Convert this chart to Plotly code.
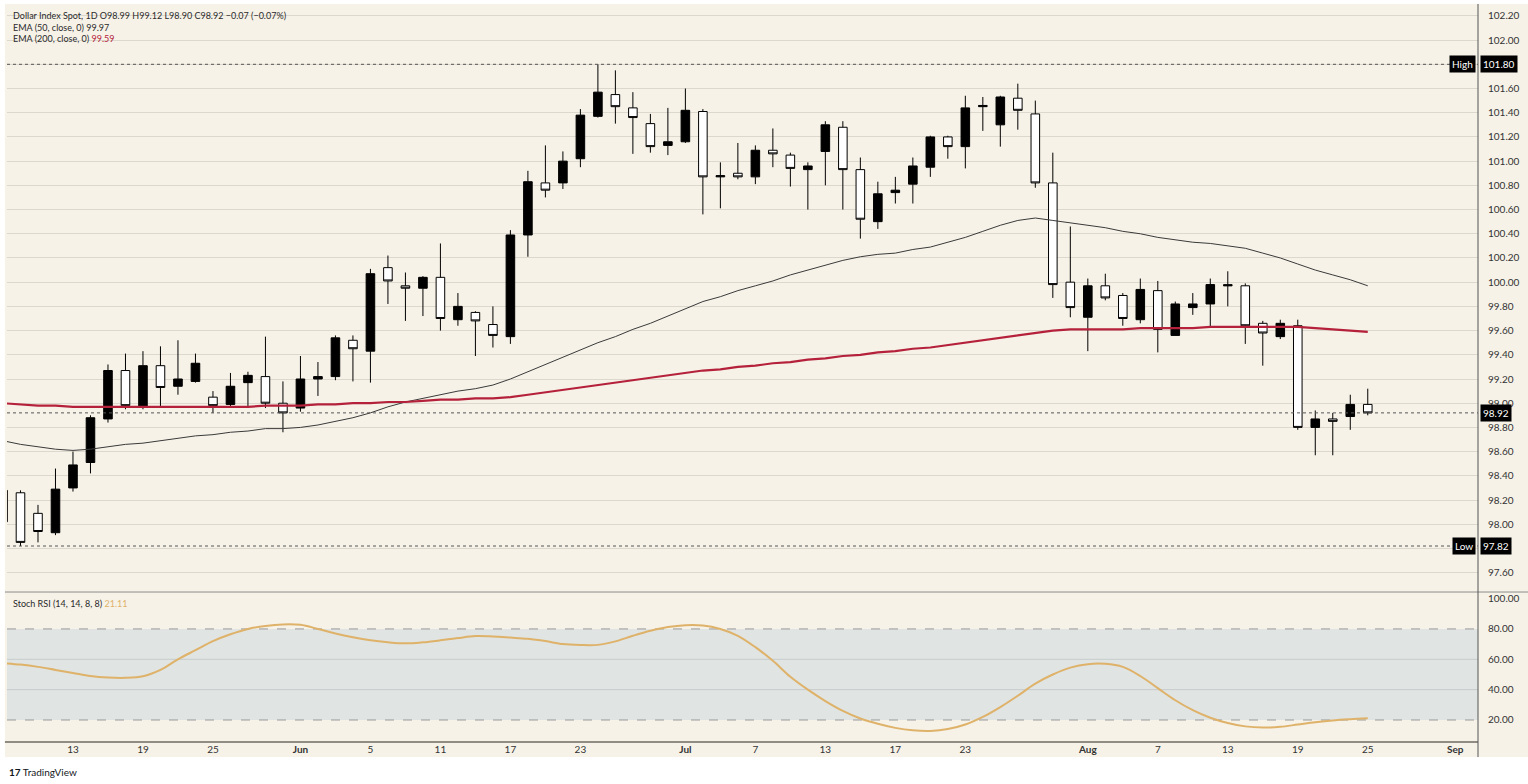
import plotly.graph_objects as go

# ── data (Dollar Index Spot, daily) ──────────────────────────────────────────
dates = [
    "2026-05-07", "2026-05-08",
    "2026-05-11", "2026-05-12", "2026-05-13", "2026-05-14", "2026-05-15",
    "2026-05-18", "2026-05-19", "2026-05-20", "2026-05-21", "2026-05-22",
    "2026-05-25", "2026-05-26", "2026-05-27", "2026-05-28", "2026-05-29",
    "2026-06-01", "2026-06-02", "2026-06-03", "2026-06-04", "2026-06-05",
    "2026-06-08", "2026-06-09", "2026-06-10", "2026-06-11", "2026-06-12",
    "2026-06-15", "2026-06-16", "2026-06-17", "2026-06-18", "2026-06-19",
    "2026-06-22", "2026-06-23", "2026-06-24", "2026-06-25", "2026-06-26",
    "2026-06-29", "2026-06-30", "2026-07-01", "2026-07-02", "2026-07-03",
    "2026-07-06", "2026-07-07", "2026-07-08", "2026-07-09", "2026-07-10",
    "2026-07-13", "2026-07-14", "2026-07-15", "2026-07-16", "2026-07-17",
    "2026-07-20", "2026-07-21", "2026-07-22", "2026-07-23", "2026-07-24",
    "2026-07-27", "2026-07-28", "2026-07-29", "2026-07-30", "2026-07-31",
    "2026-08-03", "2026-08-04", "2026-08-05", "2026-08-06", "2026-08-07",
    "2026-08-10", "2026-08-11", "2026-08-12", "2026-08-13", "2026-08-14",
    "2026-08-17", "2026-08-18", "2026-08-19", "2026-08-20", "2026-08-21",
    "2026-08-24", "2026-08-25",
]

opens = [
    98.02, 98.26,
    98.09, 97.93, 98.30, 98.51, 98.87,
    99.27, 98.97, 99.31, 99.14, 99.18,
    99.05, 98.99, 99.17, 99.22, 99.00,
    98.96, 99.20, 99.22, 99.52, 99.43,
    100.12, 99.97, 99.95, 100.04, 99.69,
    99.75, 99.65, 99.55, 100.39, 100.82,
    100.82, 101.02, 101.37, 101.55, 101.44,
    101.31, 101.13, 101.16, 101.41, 100.87,
    100.90, 100.87, 101.09, 101.05, 100.93,
    101.08, 101.28, 100.93, 100.50, 100.74,
    100.81, 100.95, 101.20, 101.12, 101.45,
    101.30, 101.52, 101.39, 100.82, 100.00,
    99.71, 99.97, 99.89, 99.69, 99.93,
    99.56, 99.79, 99.82, 99.98, 99.97,
    99.66, 99.55, 99.64, 98.80, 98.87,
    98.89, 98.99,
]
highs = [
    98.30, 98.28,
    98.16, 98.46, 98.60, 98.90, 99.32,
    99.41, 99.43, 99.47, 99.52, 99.41,
    99.10, 99.25, 99.26, 99.55, 99.18,
    99.39, 99.34, 99.56, 99.56, 100.11,
    100.22, 100.08, 100.05, 100.32, 99.91,
    99.76, 99.80, 100.43, 100.92, 101.13,
    101.08, 101.43, 101.80, 101.75, 101.57,
    101.39, 101.44, 101.60, 101.43, 100.99,
    101.15, 101.13, 101.27, 101.07, 100.99,
    101.33, 101.33, 101.03, 100.83, 100.87,
    101.03, 101.21, 101.21, 101.54, 101.53,
    101.54, 101.64, 101.50, 101.07, 100.46,
    100.03, 100.07, 99.91, 100.03, 100.01,
    99.84, 99.91, 100.03, 100.09, 99.99,
    99.68, 99.69, 99.69, 98.94, 98.92,
    99.07, 99.12,
]
lows = [
    97.98, 97.82,
    97.85, 97.91, 98.27, 98.42, 98.84,
    98.95, 98.95, 98.97, 99.07, 99.17,
    98.92, 98.97, 98.97, 98.96, 98.76,
    98.93, 99.06, 99.19, 99.18, 99.17,
    99.82, 99.68, 99.72, 99.60, 99.64,
    99.39, 99.46, 99.49, 100.21, 100.70,
    100.77, 100.95, 101.36, 101.31, 101.06,
    101.07, 101.05, 101.15, 100.56, 100.61,
    100.85, 100.81, 100.95, 100.79, 100.60,
    100.80, 100.60, 100.36, 100.44, 100.65,
    100.65, 100.87, 101.02, 100.94, 101.25,
    101.12, 101.26, 100.78, 99.87, 99.71,
    99.43, 99.85, 99.64, 99.66, 99.42,
    99.56, 99.73, 99.63, 99.80, 99.49,
    99.31, 99.53, 98.78, 98.57, 98.57,
    98.78, 98.90,
]
closes = [
    98.28, 97.85,
    97.94, 98.29, 98.49, 98.88, 99.27,
    98.98, 99.31, 99.13, 99.20, 99.33,
    98.98, 99.14, 99.23, 99.00, 98.92,
    99.20, 99.22, 99.54, 99.45, 100.07,
    100.01, 99.95, 100.04, 99.70, 99.80,
    99.68, 99.56, 100.39, 100.83, 100.76,
    101.00, 101.38, 101.57, 101.45, 101.36,
    101.12, 101.16, 101.42, 100.87, 100.88,
    100.87, 101.09, 101.06, 100.94, 100.96,
    101.30, 100.93, 100.52, 100.73, 100.76,
    100.96, 101.20, 101.12, 101.44, 101.46,
    101.53, 101.42, 100.82, 99.98, 99.79,
    99.97, 99.87, 99.70, 99.94, 99.61,
    99.82, 99.82, 99.98, 99.97, 99.64,
    99.58, 99.66, 98.80, 98.87, 98.85,
    98.99, 98.92,
]

ema50 = [
    98.69, 98.66,
    98.64, 98.62, 98.61, 98.62, 98.64,
    98.66, 98.67, 98.69, 98.71, 98.73,
    98.74, 98.76, 98.77, 98.79, 98.79,
    98.80, 98.82, 98.85, 98.88, 98.92,
    98.97, 99.01, 99.04, 99.07, 99.10,
    99.12, 99.15, 99.20, 99.26, 99.32,
    99.38, 99.44, 99.50, 99.55, 99.61,
    99.66, 99.72, 99.78, 99.84, 99.88,
    99.93, 99.97, 100.01, 100.06, 100.10,
    100.14, 100.18, 100.21, 100.23, 100.24,
    100.27, 100.29, 100.33, 100.37, 100.42,
    100.47, 100.51, 100.53, 100.51, 100.49,
    100.47, 100.45, 100.42, 100.40, 100.37,
    100.35, 100.33, 100.32, 100.30, 100.28,
    100.24, 100.20, 100.15, 100.10, 100.06,
    100.02, 99.97,
]
ema200 = [
    99.00, 98.99,
    98.98, 98.98, 98.97, 98.97, 98.97,
    98.97, 98.97, 98.97, 98.97, 98.97,
    98.97, 98.97, 98.97, 98.98, 98.98,
    98.98, 98.99, 98.99, 99.00, 99.00,
    99.01, 99.01, 99.02, 99.03, 99.03,
    99.04, 99.04, 99.05, 99.07, 99.09,
    99.11, 99.13, 99.15, 99.17, 99.19,
    99.21, 99.23, 99.25, 99.27, 99.28,
    99.30, 99.31, 99.33, 99.34, 99.36,
    99.37, 99.39, 99.40, 99.42, 99.43,
    99.45, 99.46, 99.48, 99.50, 99.52,
    99.54, 99.56, 99.58, 99.60, 99.61,
    99.61, 99.61, 99.61, 99.62, 99.62,
    99.62, 99.62, 99.63, 99.63, 99.63,
    99.63, 99.63, 99.63, 99.62, 99.61,
    99.60, 99.59,
]
stoch_rsi = [
    57.5, 56.5,
    55.0, 53.0, 51.0, 49.0, 48.0,
    47.8, 48.8, 53.0, 60.0, 66.0,
    72.0, 76.5, 80.0, 82.0, 83.0,
    82.7, 80.0, 77.0, 74.5, 72.5,
    71.2, 70.5, 71.2, 72.5, 74.0,
    75.3, 75.0, 74.3, 73.5, 72.0,
    70.0, 69.4, 69.5, 71.8, 75.5,
    78.8, 81.3, 82.5, 82.3, 80.0,
    75.5, 68.0, 59.0, 48.5, 40.0,
    32.5, 26.0, 21.0, 17.5, 14.8,
    13.2, 12.8, 14.0, 17.0, 22.0,
    28.5, 36.0, 44.0, 50.0, 54.5,
    56.8, 57.0, 55.0, 49.0, 41.0,
    33.0, 26.5, 21.5, 18.0, 15.8,
    15.0, 15.5, 17.0, 18.5, 19.7,
    20.5, 21.11,
]

tick_dates = ["2026-05-13", "2026-05-19", "2026-05-25", "2026-06-01", "2026-06-05",
              "2026-06-11", "2026-06-17", "2026-06-23", "2026-07-01", "2026-07-07",
              "2026-07-13", "2026-07-17", "2026-07-23", "2026-08-03", "2026-08-07",
              "2026-08-13", "2026-08-19", "2026-08-25", "2026-09-01"]
tick_labels = ["13", "19", "25", "<b>Jun</b>", "5", "11", "17", "23", "<b>Jul</b>", "7",
               "13", "17", "23", "<b>Aug</b>", "7", "13", "19", "25", "<b>Sep</b>"]
price_ticks = [97.6, 97.8, 98.0, 98.2, 98.4, 98.6, 98.8, 99.0, 99.2, 99.4, 99.6, 99.8,
               100.0, 100.2, 100.4, 100.6, 100.8, 101.0, 101.2, 101.4, 101.6, 101.8,
               102.0, 102.2]
stoch_ticks = [20, 40, 60, 80, 100]

# ── derived values for legend / markers ──────────────────────────────────────
hi_val = max(highs)
lo_val = min(lows)
last_close = closes[-1]
chg = closes[-1] - closes[-2]
chg_pct = chg / closes[-2] * 100

# tick labels sitting under the High / Low tags are covered in the original
price_ticktext = ["" if min(abs(v - hi_val), abs(v - lo_val)) < 0.05 else f"{v:.2f}"
                  for v in price_ticks]

CREAM = "#f6f2e8"
GRID = "#dcd8ce"
TXT = "#2a2a2a"
RED = "#b5213a"
GOLD = "#dfb26a"
FONT = "Lato, Liberation Sans, sans-serif"

SPLIT = 0.2035   # pane boundary (paper)

traces = []
traces.append(go.Candlestick(
    x=dates, open=opens, high=highs, low=lows, close=closes,
    increasing=dict(fillcolor="#000000", line=dict(color="#000000", width=1)),
    decreasing=dict(fillcolor="#ffffff", line=dict(color="#000000", width=1)),
    whiskerwidth=0, hoverinfo="skip", name="DXY",
    xaxis="x", yaxis="y",
))
traces.append(go.Scatter(
    x=dates, y=ema50, mode="lines", line=dict(color="#3a3a3a", width=1),
    hoverinfo="skip", name="EMA 50", xaxis="x", yaxis="y",
))
traces.append(go.Scatter(
    x=dates, y=ema200, mode="lines", line=dict(color=RED, width=2.2),
    hoverinfo="skip", name="EMA 200", xaxis="x", yaxis="y",
))
traces.append(go.Scatter(
    x=dates, y=stoch_rsi, mode="lines", line=dict(color=GOLD, width=2, shape="spline"),
    hoverinfo="skip", name="Stoch RSI", xaxis="x", yaxis="y2",
))

fig = go.Figure(data=traces)

# ── shapes ───────────────────────────────────────────────────────────────────
shapes = [
    # cream chart canvas (paper is white around it)
    dict(type="rect", xref="paper", yref="paper", x0=-0.0014, x1=1.04,
         y0=-0.0204, y1=1.0014, fillcolor=CREAM, line=dict(width=0), layer="below"),
    # stoch band 20-80
    dict(type="rect", xref="paper", yref="y2", x0=0, x1=1, y0=20, y1=80,
         fillcolor="#e0e4e2", line=dict(width=0), layer="below"),
    dict(type="line", xref="paper", yref="y2", x0=0, x1=1, y0=60, y1=60,
         line=dict(color="#c6cbcc", width=1), layer="below"),
    dict(type="line", xref="paper", yref="y2", x0=0, x1=1, y0=40, y1=40,
         line=dict(color="#c6cbcc", width=1), layer="below"),
    dict(type="line", xref="paper", yref="y2", x0=0, x1=1, y0=80, y1=80,
         line=dict(color="#9a9a9a", width=1, dash="dash"), layer="below"),
    dict(type="line", xref="paper", yref="y2", x0=0, x1=1, y0=20, y1=20,
         line=dict(color="#9a9a9a", width=1, dash="dash"), layer="below"),
    # high / low / last price dotted lines
    dict(type="line", xref="paper", yref="y", x0=0, x1=1, y0=hi_val, y1=hi_val,
         line=dict(color="#555555", width=1, dash="dot")),
    dict(type="line", xref="paper", yref="y", x0=0, x1=1, y0=lo_val, y1=lo_val,
         line=dict(color="#555555", width=1, dash="dot")),
    dict(type="line", xref="paper", yref="y", x0=0, x1=1, y0=last_close, y1=last_close,
         line=dict(color="#555555", width=1, dash="dot")),
    # pane separator, time axis line, price axis line
    dict(type="line", xref="paper", yref="paper", x0=-0.0014, x1=1.04, y0=SPLIT, y1=SPLIT,
         line=dict(color="#8c8c8c", width=1)),
    dict(type="line", xref="paper", yref="paper", x0=-0.0014, x1=1.0, y0=0, y1=0,
         line=dict(color="#6e6a62", width=1.5)),
    dict(type="line", xref="paper", yref="paper", x0=1, x1=1, y0=-0.0204, y1=1.0014,
         line=dict(color="#555555", width=1)),
]

# ── annotations ──────────────────────────────────────────────────────────────
def tag(text, y, yref, anchor):
    return dict(text=text, xref="paper", x=1, xanchor=anchor,
                xshift=2 if anchor == "left" else -2,
                yref=yref, y=y, yanchor="middle", showarrow=False,
                bgcolor="#000000", borderpad=2,
                font=dict(color="#ffffff", size=10, family=FONT))

annotations = [
    dict(text=(f"Dollar Index Spot, 1D O{opens[-1]:.2f} H{highs[-1]:.2f} "
               f"L{lows[-1]:.2f} C{closes[-1]:.2f} "
               f"{chg:+.2f} ({chg_pct:+.2f}%)").replace("-", "−"),
         xref="paper", x=0, xshift=4, xanchor="left",
         yref="paper", y=1, yshift=-10, yanchor="middle", showarrow=False,
         font=dict(size=9, color=TXT, family=FONT)),
    dict(text=f"EMA (50, close, 0) {ema50[-1]:.2f}",
         xref="paper", x=0, xshift=4, xanchor="left",
         yref="paper", y=1, yshift=-22, yanchor="middle", showarrow=False,
         font=dict(size=9, color=TXT, family=FONT)),
    dict(text=f"EMA (200, close, 0) <span style='color:{RED}'>{ema200[-1]:.2f}</span>",
         xref="paper", x=0, xshift=4, xanchor="left",
         yref="paper", y=1, yshift=-33, yanchor="middle", showarrow=False,
         font=dict(size=9, color=TXT, family=FONT)),
    dict(text=f"Stoch RSI (14, 14, 8, 8) <span style='color:{GOLD}'>{stoch_rsi[-1]:.2f}</span>",
         xref="paper", x=0, xshift=4, xanchor="left",
         yref="paper", y=SPLIT, yshift=-11, yanchor="middle", showarrow=False,
         font=dict(size=9, color=TXT, family=FONT)),
    tag("High", hi_val, "y", "right"),
    tag(f"{hi_val:.2f}", hi_val, "y", "left"),
    tag("Low", lo_val, "y", "right"),
    tag(f"{lo_val:.2f}", lo_val, "y", "left"),
    tag(f"{last_close:.2f}", last_close, "y", "left"),
    dict(text="<b>17</b> TradingView", xref="paper", x=0, xshift=0, xanchor="left",
         yref="paper", y=0, yshift=-30, yanchor="middle", showarrow=False,
         font=dict(size=10, color="#131722", family=FONT)),
]

fig.update_layout(
    width=1528, height=784,
    margin=dict(l=7, r=50, t=5, b=42),
    paper_bgcolor="#ffffff",
    plot_bgcolor="rgba(0,0,0,0)",
    showlegend=False,
    font=dict(family=FONT, color=TXT, size=10),
    xaxis=dict(
        type="date", anchor="y2",
        range=["2026-05-07 05:30", "2026-09-02 07:12"],
        rangebreaks=[dict(bounds=["sat", "mon"])],
        rangeslider=dict(visible=False),
        tickvals=tick_dates, ticktext=tick_labels,
        showgrid=False, zeroline=False, showline=False, ticks="",
        tickfont=dict(size=10, color="#333333"),
        fixedrange=True,
    ),
    yaxis=dict(
        domain=[SPLIT, 1], anchor="x", side="right",
        range=[97.44, 102.29], tickvals=price_ticks, ticktext=price_ticktext,
        showgrid=True, gridcolor=GRID, gridwidth=1,
        zeroline=False, showline=False,
        ticks="outside", ticklen=7, tickcolor="rgba(0,0,0,0)",
        tickfont=dict(size=10, color="#333333"),
    ),
    yaxis2=dict(
        domain=[0, SPLIT - 0.0013], anchor="x", side="right",
        range=[5.5, 103.7], tickvals=stoch_ticks,
        ticktext=[f"{v:.2f}" for v in stoch_ticks],
        showgrid=False, zeroline=False, showline=False,
        ticks="outside", ticklen=7, tickcolor="rgba(0,0,0,0)",
        tickfont=dict(size=10, color="#333333"),
    ),
    shapes=shapes,
    annotations=annotations,
)

# page body margin off so the 1528x784 figure fills the window exactly
fig.write_html("out.html", config={"displayModeBar": False},
               post_script="document.body.style.margin='0';document.body.style.overflow='hidden';")
